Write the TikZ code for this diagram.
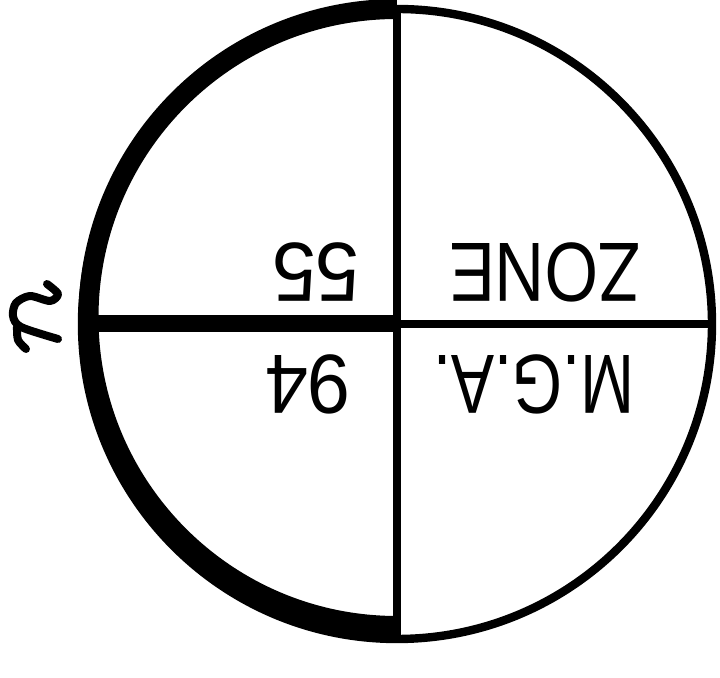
\documentclass[tikz,border=0pt]{standalone}
\usepackage{fontspec}
\setsansfont{Liberation Sans}
\begin{document}
\begin{tikzpicture}[x=0.5pt,y=-0.5pt,
  thinline/.style={line width=4.2pt},
  thickline/.style={line width=10pt},
  lbl/.style={font=\sffamily\fontsize{42}{42}\selectfont, rotate=180, inner sep=0pt},
  squig/.style={line width=4pt, line cap=round, line join=round}]
\useasboundingbox (0,0) rectangle (720,678);
\coordinate (c) at (397,324);
\coordinate (top) at (397,9);
\coordinate (bot) at (397,639);
\coordinate (lft) at (82,324);
\coordinate (rgt) at (712,324);
\node[circle, draw, thinline, minimum size=315pt, inner sep=0pt] (disc) at (c) {};
\draw[thickline] (top) arc[start angle=-90, end angle=-270, radius=308.5] coordinate (tb);
\draw[thinline] (top) -- (bot);
\draw[thinline] (c) -- (rgt);
\draw[line width=8.5pt] (lft) -- (c);
\node[lbl] (zone) at (545,272) {\scalebox{0.82}[1]{ZONE}};
\node[lbl] (n55) at (316,272) {\scalebox{0.94}[1]{55}};
\node[lbl] (mga) at (534,384) {\scalebox{0.77}[1]{M.G.A.}};
\node[lbl] (n94) at (308,384) {\scalebox{0.92}[1]{94}};
\draw[squig] plot[smooth] coordinates {(47,284) (58,294) (50,301) (30,296) (16,303) (13,316) (21,327) (58,339)};
\draw[squig] plot[smooth] coordinates {(17,327) (18,340) (26,349)};
\end{tikzpicture}
\end{document}
